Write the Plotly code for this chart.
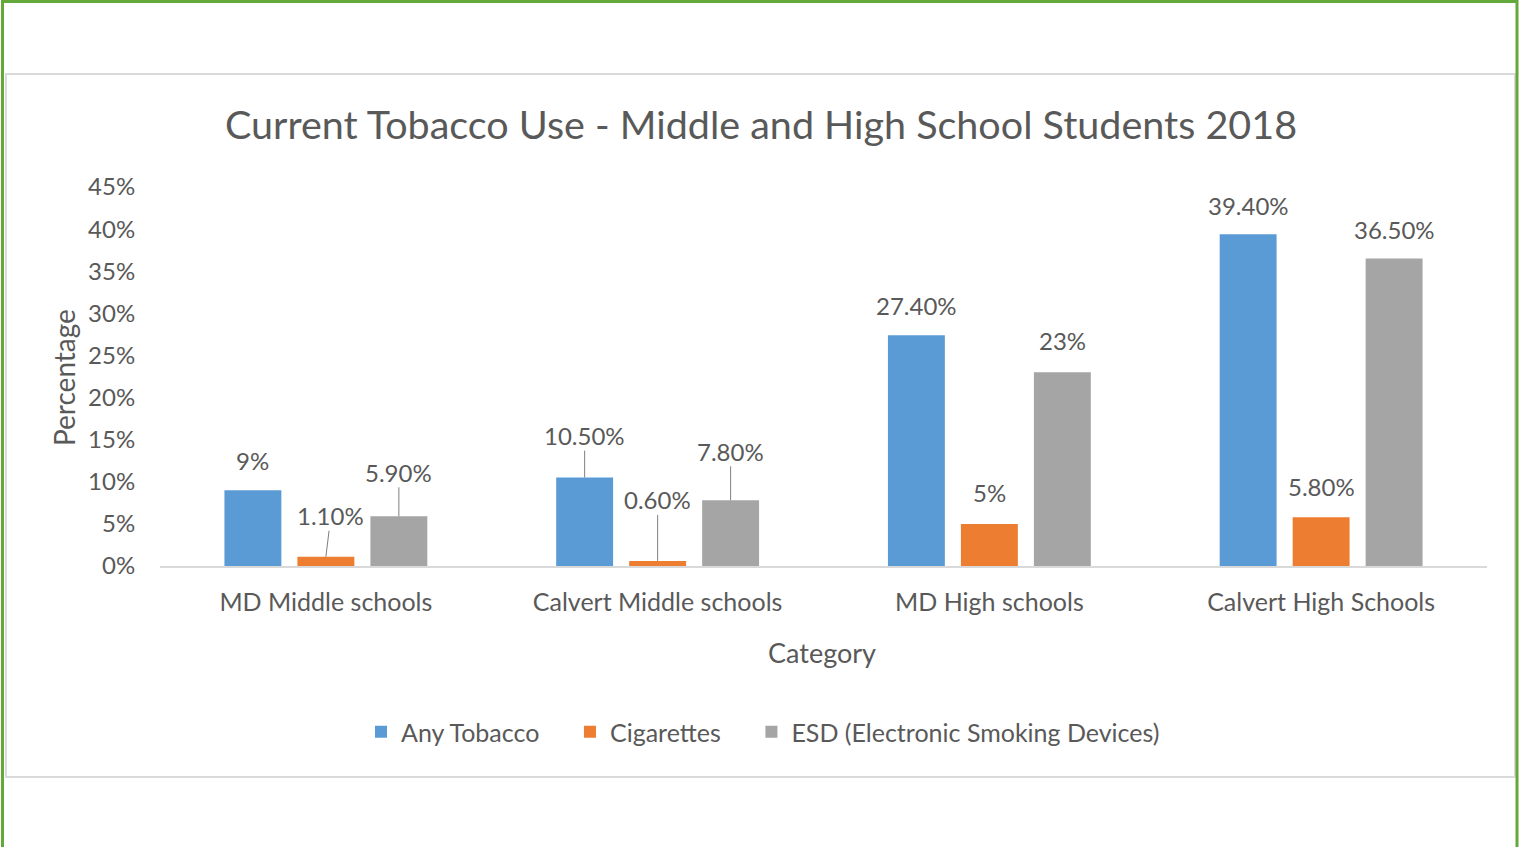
import plotly.graph_objects as go

categories = ["MD Middle schools", "Calvert Middle schools", "MD High schools", "Calvert High Schools"]
any_tobacco = [9.0, 10.5, 27.4, 39.4]
cigarettes = [1.1, 0.6, 5.0, 5.8]
esd = [5.9, 7.8, 23.0, 36.5]
any_labels = ["9%", "10.50%", "27.40%", "39.40%"]
cig_labels = ["1.10%", "0.60%", "5%", "5.80%"]
esd_labels = ["5.90%", "7.80%", "23%", "36.50%"]
series_names = ["Any Tobacco", "Cigarettes", "ESD (Electronic Smoking Devices)"]
y_ticks = [0, 5, 10, 15, 20, 25, 30, 35, 40, 45]
y_tick_text = ["0%", "5%", "10%", "15%", "20%", "25%", "30%", "35%", "40%", "45%"]

colors = ["#5B9BD5", "#ED7D31", "#A5A5A5"]
FONT = "Lato"
TXT = "#595959"

W, H = 1519, 847
L, R, T, B = 160, 32, 187, 281
PW, PH = W - L - R, H - T - B
BARGAP, GROUPGAP = 0.34, 0.22
slot_px = PW / len(categories) * (1 - BARGAP) / 3


def px2x(px):
    return (px - L) / PW


def py2y(py):
    return (H - B - py) / PH


fig = go.Figure()
all_vals = [any_tobacco, cigarettes, esd]
all_labels = [any_labels, cig_labels, esd_labels]
pad = "\u00a0" * 4
legend_names = [series_names[0] + pad, series_names[1] + pad, series_names[2]]
for name, vals, c in zip(legend_names, all_vals, colors):
    fig.add_trace(go.Bar(name=name, x=categories, y=vals, marker=dict(color=c, line=dict(width=0))))

# label placement: (ax, ay, leader line)
label_pos = [
    [(0, -30, False), (0, -42, True), (0, -30, False), (0, -29, False)],
    [(5, -41, True), (0, -61, True), (0, -31, False), (0, -31, False)],
    [(0, -44, True), (0, -49, True), (0, -32, False), (0, -29, False)],
]

annotations = []
for si in range(3):
    for ci, cat in enumerate(categories):
        ax, ay, lead = label_pos[si][ci]
        xs = (si - 1) * slot_px
        if lead:
            annotations.append(dict(
                x=cat, y=all_vals[si][ci], xref="x", yref="y", xshift=xs,
                text=all_labels[si][ci], showarrow=True, arrowhead=0, arrowwidth=1,
                arrowcolor="#7F7F7F", ax=ax, ay=ay, standoff=0,
                font=dict(family=FONT, size=24, color=TXT), borderpad=0))
        else:
            annotations.append(dict(
                x=cat, y=all_vals[si][ci], xref="x", yref="y", xshift=xs + ax, yshift=-ay,
                text=all_labels[si][ci], showarrow=False, yanchor="middle",
                font=dict(family=FONT, size=24, color=TXT)))

# axis titles
annotations.append(dict(x=px2x(822), y=py2y(652), xref="paper", yref="paper", text="Category",
                        showarrow=False, font=dict(family=FONT, size=27, color=TXT), yanchor="middle"))
annotations.append(dict(x=px2x(64), y=py2y(378), xref="paper", yref="paper", text="Percentage",
                        showarrow=False, textangle=-90, font=dict(family=FONT, size=28, color=TXT),
                        xanchor="center", yanchor="middle"))

shapes = [
    dict(type="rect", xref="paper", yref="paper", x0=px2x(6), x1=px2x(1515), y0=py2y(777), y1=py2y(74),
         line=dict(color="#DADADA", width=2), layer="below"),
    dict(type="rect", xref="paper", yref="paper", x0=px2x(2.5), x1=px2x(1517), y0=py2y(860), y1=py2y(1.5),
         line=dict(color="#62A83A", width=3), layer="above"),
]

fig.update_layout(
    width=W, height=H,
    margin=dict(l=L, r=R, t=T, b=B, pad=0),
    paper_bgcolor="white", plot_bgcolor="white",
    barmode="group", bargap=BARGAP, bargroupgap=GROUPGAP,
    title=dict(text="Current Tobacco Use - Middle and High School Students 2018",
               xref="container", yref="container", x=0.501, y=1 - 125 / H,
               xanchor="center", yanchor="middle",
               font=dict(family=FONT, size=39.5, color=TXT)),
    xaxis=dict(showgrid=False, showline=True, linecolor="#D9D9D9", linewidth=2,
               ticks="outside", ticklen=13, tickcolor="rgba(0,0,0,0)",
               tickfont=dict(family=FONT, size=25, color=TXT), zeroline=False),
    yaxis=dict(range=[0, 45], tickvals=y_ticks, ticktext=y_tick_text, showgrid=False,
               showline=False, zeroline=False, ticks="outside", ticklen=19,
               tickcolor="rgba(0,0,0,0)", tickfont=dict(family=FONT, size=24, color=TXT)),
    legend=dict(orientation="h", x=px2x(763), y=py2y(732), xanchor="center", yanchor="middle",
                font=dict(family=FONT, size=25, color=TXT), traceorder="normal",
                itemwidth=30, bgcolor="rgba(0,0,0,0)"),
    annotations=annotations,
    shapes=shapes,
)

fig.write_html("out.html", config={"displayModeBar": False},
               post_script="document.body.style.margin='0px';")
